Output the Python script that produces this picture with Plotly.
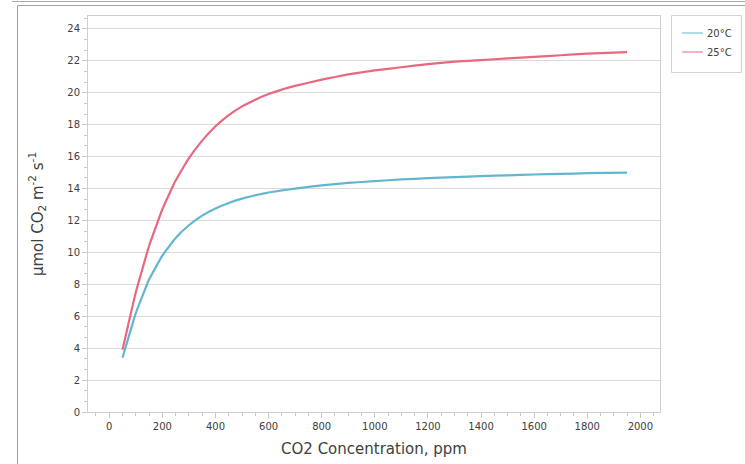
import plotly.graph_objects as go

co2_ppm = [50, 100, 150, 200, 250, 300, 350, 400, 450, 500, 550, 600, 650, 700, 800, 900,
           1000, 1100, 1200, 1300, 1400, 1500, 1600, 1700, 1800, 1950]
rate_20c = [3.4, 6.2, 8.3, 9.8, 10.9, 11.7, 12.3, 12.75, 13.1, 13.37, 13.58, 13.75, 13.88, 14.0, 14.2, 14.35,
            14.47, 14.57, 14.65, 14.72, 14.78, 14.83, 14.88, 14.92, 14.96, 15.0]
rate_25c = [3.9, 7.5, 10.4, 12.7, 14.5, 15.9, 17.0, 17.9, 18.6, 19.15, 19.57, 19.92, 20.2, 20.43, 20.82, 21.15,
            21.4, 21.6, 21.8, 21.95, 22.05, 22.15, 22.25, 22.35, 22.45, 22.55]
series_names = ["20°C", "25°C"]
series_colors = ["#62B7CE", "#E8687E"]
x_ticks = [0, 200, 400, 600, 800, 1000, 1200, 1400, 1600, 1800, 2000]
y_ticks = [0, 2, 4, 6, 8, 10, 12, 14, 16, 18, 20, 22, 24]

W, H = 745, 464
L, R, T, B = 88, 660, 16, 412


def px(x):
    return (x - L) / (R - L)


def py(y):
    return (B - y) / (B - T)


fig = go.Figure()
for name, vals, col in zip(series_names, [rate_20c, rate_25c], series_colors):
    fig.add_trace(go.Scatter(x=co2_ppm, y=vals, mode="lines", name=name,
                             line=dict(color=col, width=2.2, shape="spline", smoothing=0.3),
                             showlegend=False, hoverinfo="skip"))

axis_font = dict(family="DejaVu Sans", size=10, color="#404040")
common = dict(showline=True, linecolor="#cfcfcf", linewidth=1, mirror=True,
              ticks="outside", ticklen=5, tickcolor="#c8c8c8", tickwidth=1,
              tickfont=axis_font, zeroline=False, automargin=False)

shapes = [
    dict(type="line", xref="paper", yref="paper", x0=px(12), x1=px(760), y0=py(1.5), y1=py(1.5),
         line=dict(color="#a8a8a8", width=1)),
    dict(type="rect", xref="paper", yref="paper", x0=px(17.5), x1=px(770), y0=py(5.5), y1=py(480),
         line=dict(color="#a0a0a0", width=1), fillcolor="rgba(0,0,0,0)"),
    dict(type="rect", xref="paper", yref="paper", x0=px(671.5), x1=px(741.5), y0=py(15.5), y1=py(72.5),
         line=dict(color="#d4d4d4", width=1), fillcolor="rgba(0,0,0,0)"),
]
annotations = []
for i, (name, col) in enumerate(zip(series_names, series_colors)):
    yy = 33 + 19 * i
    shapes.append(dict(type="line", xref="paper", yref="paper", x0=px(682), x1=px(703),
                       y0=py(yy), y1=py(yy), line=dict(color=col, width=1)))
    annotations.append(dict(xref="paper", yref="paper", x=px(705), y=py(yy), text=name,
                            showarrow=False, xanchor="left", yanchor="middle",
                            font=dict(family="DejaVu Sans", size=10, color="#404040")))

fig.update_layout(
    width=W, height=H,
    margin=dict(l=L, r=W - R, t=T, b=H - B, pad=0),
    paper_bgcolor="white", plot_bgcolor="white",
    showlegend=False,
    xaxis=dict(range=[-80, 2074], tickvals=x_ticks, ticktext=[str(v) for v in x_ticks],
               showgrid=False,
               title=dict(text="CO2 Concentration, ppm",
                          font=dict(family="DejaVu Sans", size=15, color="#404040"), standoff=12),
               minor=dict(dtick=50, tick0=0, ticks="outside", ticklen=3, tickcolor="#c8c8c8", showgrid=False),
               **common),
    yaxis=dict(range=[0, 24.81], tickvals=y_ticks, ticktext=[str(v) for v in y_ticks],
               showgrid=True, gridcolor="#dadada", gridwidth=1,
               title=dict(text="μmol CO<sub>2</sub> m<sup>-2</sup> s<sup>-1</sup>",
                          font=dict(family="DejaVu Sans", size=15, color="#404040"), standoff=20),
               minor=dict(dtick=2 / 3, tick0=0, ticks="outside", ticklen=3, tickcolor="#c8c8c8", showgrid=False),
               **common),
    shapes=shapes,
    annotations=annotations,
)

fig.write_html("out.html", config={"displayModeBar": False},
               post_script="document.body.style.margin='0';document.body.style.overflow='hidden';")
